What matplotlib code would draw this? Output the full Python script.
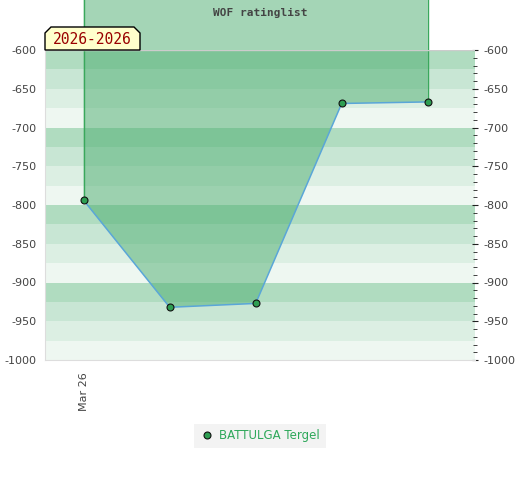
import matplotlib
matplotlib.use("Agg")
import matplotlib.pyplot as plt
from matplotlib.patches import Polygon
from matplotlib.ticker import MultipleLocator
import numpy as np

plt.rcParams["axes.unicode_minus"] = False

# data
x_idx = [0, 1, 2, 3, 4]
ratings = [-794, -932, -927, -669, -667]
tick_labels = ["Mar 26"]
player = "BATTULGA Tergel"
title = "WOF ratinglist"
period = "2026-2026"

W, H = 520, 480
fig = plt.figure(figsize=(5.2, 4.8), dpi=100)
ax = fig.add_axes([45/W, 1-360/H, 430/W, 310/H])
ax.set_xlim(-0.45, 4.55)
ax.set_ylim(-1000, -600)

band_cols = ["#b0dcc0", "#c8e6d4", "#dcefe3", "#eef7f1"]
for i in range(16):
    top = -600 - 25*i
    ax.axhspan(top - 25, top, color=band_cols[i % 4], lw=0, zorder=0)

# fill region from line to above the top
top_y = -500
poly_pts = [(x_idx[0], top_y)] + list(zip(x_idx, ratings)) + [(x_idx[-1], top_y)]
poly = Polygon(poly_pts, closed=True, facecolor="#4bad6f", alpha=0.5, edgecolor="none",
               clip_on=False, zorder=1)
ax.add_patch(poly)
ax.plot([x_idx[0], x_idx[0]], [ratings[0], top_y], color="#3aa85c", lw=1, clip_on=False, zorder=2)
ax.plot([x_idx[-1], x_idx[-1]], [ratings[-1], top_y], color="#3aa85c", lw=1, clip_on=False, zorder=2)

ax.plot(x_idx, ratings, color="#5aa6d8", lw=1.1, zorder=3)
ax.plot(x_idx, ratings, ls="none", marker="o", ms=5, mfc="#2e9e52", mec="#111111", mew=0.8,
        zorder=4, label=player)

for s in ["top", "right"]:
    ax.spines[s].set_visible(False)
ax.spines["left"].set_color("#dddddd")
ax.spines["bottom"].set_color("#dddddd")
ax.axhline(-600, color="#cccccc", lw=1, zorder=2)

ax.set_xticks([0])
ax.set_xticklabels(tick_labels, rotation=90, fontsize=8, color="#444444")
ax.tick_params(axis="x", length=0, pad=9)
ax.set_yticks(np.arange(-1000, -599, 50))
ax.tick_params(axis="y", left=False, right=True, labelleft=True, labelright=True,
               labelsize=8, labelcolor="#444444", length=4, direction="inout", color="#222222",
               pad=4)
ax.yaxis.set_minor_locator(MultipleLocator(10))
ax.tick_params(axis="y", which="minor", left=False, right=True, length=3, direction="inout", color="#222222")

fig.text(260/W, 1-13/H, title, ha="center", va="center", fontsize=8, fontweight="bold",
         family="DejaVu Sans Mono", color="#444444")

# period label with chamfered top corners
box_px = [(45, 50), (45, 33), (51, 27), (134, 27), (140, 33), (140, 50)]
box = Polygon([(x/W, 1-y/H) for x, y in box_px], closed=True, transform=fig.transFigure,
              facecolor="#ffffcc", edgecolor="#000000", lw=1, zorder=10, clip_on=False)
fig.patches.append(box)
fig.text(92/W, 1-40/H, period, ha="center", va="center", fontsize=10.5,
         family="DejaVu Sans Mono", color="#990000", zorder=11)

leg = ax.legend(loc="upper center", bbox_to_anchor=(0.5, -0.205), frameon=True, fontsize=8.5,
                handletextpad=0.4, borderpad=0.2, handlelength=1.2, borderaxespad=0.3)
leg.get_frame().set_facecolor("#f0f0f0")
leg.get_frame().set_edgecolor("none")
leg.get_frame().set_boxstyle("square")
for t in leg.get_texts():
    t.set_color("#2ea85a")

fig.savefig("out.png", dpi=100)
